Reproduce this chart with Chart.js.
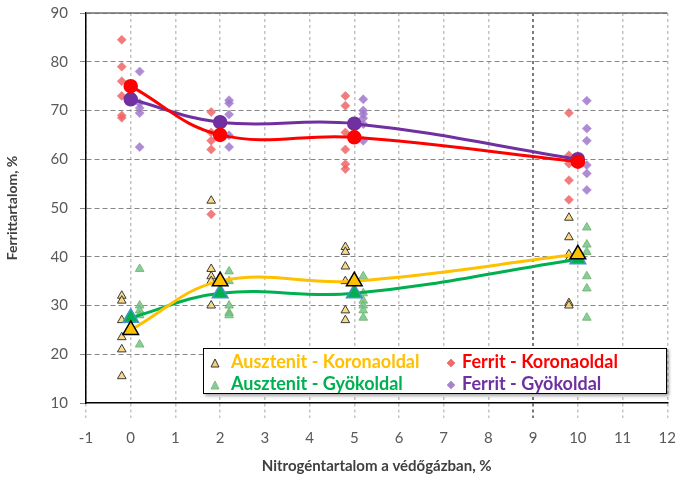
<!DOCTYPE html>
<html>
<head>
<meta charset="utf-8">
<script src="https://cdn.jsdelivr.net/npm/chart.js@4"></script>
<style>
  html, body { margin: 0; padding: 0; background: #fff; }
  #wrap { position: relative; width: 687px; height: 479px; }
  #legend {
    position: absolute; left: 203px; top: 348px; width: 462px; height: 44px;
    background: #fff; border: 1px solid #000; box-shadow: 2px 2px 3px rgba(0,0,0,0.35);
    font-family: Lato, "Open Sans", sans-serif; font-weight: bold; font-size: 18px;
  }
  .mk, .tx { position: absolute; white-space: nowrap; line-height: 20px; }
</style>
</head>
<body>
<div id="wrap">
  <canvas id="chart" width="687" height="479"></canvas>
  <div id="legend"></div>
</div>
<script>
// individual measurements, x slightly offset around nominal N2 content
const ausztenitKoronaX = [-0.2,-0.2,-0.2,-0.2,-0.2,-0.2, 1.8,1.8,1.8,1.8,1.8, 4.8,4.8,4.8,4.8,4.8,4.8, 9.8,9.8,9.8,9.8,9.8,9.8];
const ausztenitKoronaY = [32,31,27,23.5,21,15.5, 51.5,37.5,36,35,30, 42,41,38,35,29,27, 48,44,40.5,39.5,30.5,30];
const ausztenitGyokX = [0.2,0.2,0.2,0.2,0.2, 2.2,2.2,2.2,2.2,2.2, 5.2,5.2,5.2,5.2,5.2,5.2, 10.2,10.2,10.2,10.2,10.2,10.2];
const ausztenitGyokY = [37.5,30,29,28,22, 37,35,30,28.5,28, 36,32.5,31,30,29,27.5, 46,42.5,41,36,33.5,27.5];
const ferritKoronaX = [-0.2,-0.2,-0.2,-0.2,-0.2,-0.2, 1.8,1.8,1.8,1.8,1.8, 4.8,4.8,4.8,4.8,4.8,4.8, 9.8,9.8,9.8,9.8,9.8];
const ferritKoronaY = [84.5,79,76,73,69,68.5, 69.7,65.5,63.8,62,48.7, 73,71,65.5,62,59,58, 69.5,60.8,59.1,55.7,51.7];
const ferritGyokX = [0.2,0.2,0.2,0.2,0.2, 2.2,2.2,2.2,2.2,2.2, 5.2,5.2,5.2,5.2,5.2,5.2, 10.2,10.2,10.2,10.2,10.2,10.2];
const ferritGyokY = [78,71.5,70.5,69.5,62.5, 72.1,71.5,69.2,64.9,62.5, 72.3,70,69.3,68.4,67.2,63.8, 72,66.3,63.8,58.8,57.1,53.7];

// averages (smoothed lines)
const nitrogen = [0, 2, 5, 10];
const ausztenitKoronaAvg = [25, 35, 35, 40.5];
const ausztenitGyokAvg = [27.5, 32.5, 32.5, 39.5];
const ferritKoronaAvg = [75, 65, 64.5, 59.5];
const ferritGyokAvg = [72.3, 67.6, 67.3, 60];

const xTicks = [-1,0,1,2,3,4,5,6,7,8,9,10,11,12];
const yTicks = [10,20,30,40,50,60,70,80,90];

const labels = ['Ausztenit - Koronaoldal', 'Ferrit - Koronaoldal', 'Ausztenit - Gyökoldal', 'Ferrit - Gyökoldal'];

const pts = (xs, ys) => xs.map((x, i) => ({x, y: ys[i]}));

function scatterSet(label, xs, ys, style, bg, border, r) {
  return {
    label, type: 'scatter', data: pts(xs, ys), pointStyle: style,
    backgroundColor: bg, borderColor: border, borderWidth: 1,
    pointRadius: r, pointHoverRadius: r, order: 2
  };
}
function lineSet(ys, color, style, bg, border, r) {
  return {
    label: '', type: 'line', data: pts(nitrogen, ys),
    borderColor: color, borderWidth: 3, tension: 0.4, fill: false,
    pointStyle: style, pointRadius: r, pointHoverRadius: r,
    pointBackgroundColor: bg, pointBorderColor: border, pointBorderWidth: 1.5,
    order: 1
  };
}

const isNine = c => c.tick && c.tick.value === 9;

new Chart(document.getElementById('chart'), {
  type: 'scatter',
  data: {
    datasets: [
      scatterSet(labels[0], ausztenitKoronaX, ausztenitKoronaY, 'triangle', 'rgba(250,215,120,0.9)', '#3a3a3a', 5),
      scatterSet(labels[2], ausztenitGyokX, ausztenitGyokY, 'triangle', 'rgba(110,200,140,0.85)', 'rgba(120,180,110,0.9)', 5),
      scatterSet(labels[1], ferritKoronaX, ferritKoronaY, 'rectRot', 'rgba(240,100,100,0.85)', 'rgba(240,120,120,0.6)', 4.5),
      scatterSet(labels[3], ferritGyokX, ferritGyokY, 'rectRot', 'rgba(160,120,205,0.85)', 'rgba(170,135,210,0.6)', 4.5),
      lineSet(ausztenitKoronaAvg, '#FFC000', 'triangle', '#FFC000', '#000000', 9),
      lineSet(ausztenitGyokAvg, '#00B050', 'triangle', '#00B050', '#4a90c8', 9),
      lineSet(ferritKoronaAvg, '#FF0000', 'circle', '#FF0000', '#FF0000', 6.5),
      lineSet(ferritGyokAvg, '#7030A0', 'circle', '#7030A0', '#7030A0', 6.5)
    ]
  },
  options: {
    responsive: false,
    animation: false,
    layout: { padding: { top: 13, right: 10, left: 0, bottom: 0 } },
    plugins: { legend: { display: false }, tooltip: { enabled: false } },
    scales: {
      x: {
        type: 'linear', min: -1, max: 12,
        afterBuildTicks: s => { s.ticks = xTicks.map(v => ({value: v})); },
        afterFit: s => { s.height = 76; },
        border: { display: true, color: '#000', width: 1.5, dash: [3, 3] },
        grid: {
          color: c => isNine(c) ? '#7a7a7a' : '#c4c4c4',
          tickColor: c => isNine(c) ? '#7a7a7a' : '#c4c4c4',
          lineWidth: c => isNine(c) ? 2 : 1.5,
          tickLength: 15, drawTicks: true, tickBorderDash: [3, 3]
        },
        ticks: { color: '#595959', font: { family: 'Lato', size: 15 }, padding: 11 },
        title: {
          display: true, text: 'Nitrogéntartalom a védőgázban, %', color: '#404040',
          font: { family: 'Lato', size: 15, weight: 'bold' }, padding: { top: 5 }
        }
      },
      y: {
        min: 10, max: 90,
        afterBuildTicks: s => { s.ticks = yTicks.map(v => ({value: v})); },
        afterFit: s => { s.width = 86; s.paddingTop = 0; s.paddingBottom = 0; },
        border: { display: true, color: '#000', width: 1.5, dash: [5, 3] },
        grid: {
          color: c => c.tick && c.tick.value === 10 ? 'rgba(0,0,0,0)' : '#868686',
          tickColor: '#868686', lineWidth: 1, tickLength: 6, tickBorderDash: [5, 3]
        },
        ticks: { color: '#595959', font: { family: 'Lato', size: 15 }, padding: 12 },
        title: {
          display: true, text: 'Ferrittartalom, %', color: '#404040',
          font: { family: 'Lato', size: 14, weight: 'bold' }, padding: { bottom: 4 }
        }
      }
    }
  },
  plugins: [{
    id: 'topEdge',
    afterDraw(chart) {
      const {ctx, chartArea: a} = chart;
      ctx.save();
      ctx.strokeStyle = '#6e6e6e';
      ctx.lineWidth = 1.5;
      ctx.beginPath();
      ctx.moveTo(a.left, a.top);
      ctx.lineTo(a.right, a.top);
      ctx.stroke();
      ctx.restore();
    }
  }]
});

// legend overlay
const legendItems = [
  { text: labels[0], color: '#FFC000', mx: 6, tx: 27, top: 2, marker: 'tri', fill: '#F5D27A', stroke: '#333' },
  { text: labels[1], color: '#FF0000', mx: 242, tx: 258, top: 2, marker: 'dia', fill: '#F06A6A', stroke: '#F08080' },
  { text: labels[2], color: '#00B050', mx: 6, tx: 27, top: 24, marker: 'tri', fill: '#7ECF9A', stroke: '#8ab873' },
  { text: labels[3], color: '#7030A0', mx: 242, tx: 258, top: 24, marker: 'dia', fill: '#A783CE', stroke: '#B89ADB' }
];
const legendEl = document.getElementById('legend');
legendItems.forEach(it => {
  const m = document.createElement('div');
  m.className = 'mk';
  m.style.left = it.mx + 'px';
  m.style.top = (it.top + 5) + 'px';
  m.style.lineHeight = '10px';
  const shape = it.marker === 'tri'
    ? `<polygon points="5,1 9,9 1,9" fill="${it.fill}" stroke="${it.stroke}" stroke-width="1"/>`
    : `<polygon points="5,1 9,5 5,9 1,5" fill="${it.fill}" stroke="${it.stroke}" stroke-width="1"/>`;
  m.innerHTML = `<svg width="10" height="10">${shape}</svg>`;
  const t = document.createElement('div');
  t.className = 'tx';
  t.style.left = it.tx + 'px';
  t.style.top = it.top + 'px';
  t.style.color = it.color;
  t.textContent = it.text;
  legendEl.appendChild(m);
  legendEl.appendChild(t);
});
</script>
</body>
</html>
